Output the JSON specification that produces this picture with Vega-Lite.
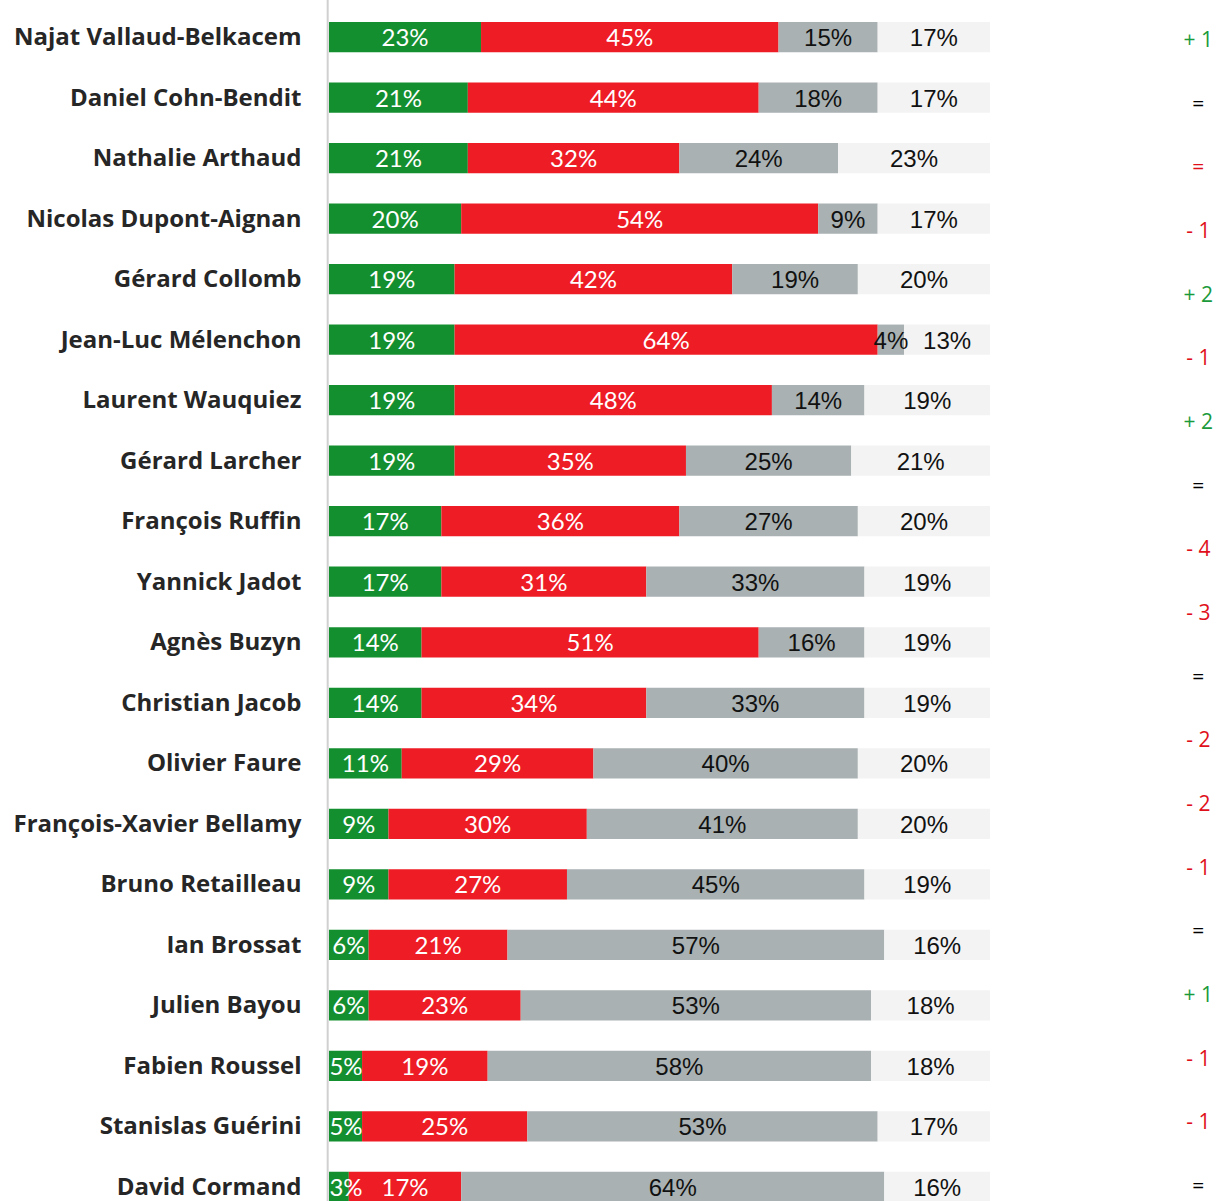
{
  "$schema": "https://vega.github.io/schema/vega-lite/v6.json",
  "width": 903,
  "height": 1201,
  "autosize": "none",
  "padding": {"left": 329, "top": 0, "right": 0, "bottom": 0},
  "background": "white",
  "config": {"view": {"stroke": null}},
  "datasets": {
    "barres": [
      {"nom": "Najat Vallaud-Belkacem", "Bonne opinion": 23, "Mauvaise opinion": 45, "Ne connaissent pas": 15, "Ne se prononcent pas": 17},
      {"nom": "Daniel Cohn-Bendit", "Bonne opinion": 21, "Mauvaise opinion": 44, "Ne connaissent pas": 18, "Ne se prononcent pas": 17},
      {"nom": "Nathalie Arthaud", "Bonne opinion": 21, "Mauvaise opinion": 32, "Ne connaissent pas": 24, "Ne se prononcent pas": 23},
      {"nom": "Nicolas Dupont-Aignan", "Bonne opinion": 20, "Mauvaise opinion": 54, "Ne connaissent pas": 9, "Ne se prononcent pas": 17},
      {"nom": "Gérard Collomb", "Bonne opinion": 19, "Mauvaise opinion": 42, "Ne connaissent pas": 19, "Ne se prononcent pas": 20},
      {"nom": "Jean-Luc Mélenchon", "Bonne opinion": 19, "Mauvaise opinion": 64, "Ne connaissent pas": 4, "Ne se prononcent pas": 13},
      {"nom": "Laurent Wauquiez", "Bonne opinion": 19, "Mauvaise opinion": 48, "Ne connaissent pas": 14, "Ne se prononcent pas": 19},
      {"nom": "Gérard Larcher", "Bonne opinion": 19, "Mauvaise opinion": 35, "Ne connaissent pas": 25, "Ne se prononcent pas": 21},
      {"nom": "François Ruffin", "Bonne opinion": 17, "Mauvaise opinion": 36, "Ne connaissent pas": 27, "Ne se prononcent pas": 20},
      {"nom": "Yannick Jadot", "Bonne opinion": 17, "Mauvaise opinion": 31, "Ne connaissent pas": 33, "Ne se prononcent pas": 19},
      {"nom": "Agnès Buzyn", "Bonne opinion": 14, "Mauvaise opinion": 51, "Ne connaissent pas": 16, "Ne se prononcent pas": 19},
      {"nom": "Christian Jacob", "Bonne opinion": 14, "Mauvaise opinion": 34, "Ne connaissent pas": 33, "Ne se prononcent pas": 19},
      {"nom": "Olivier Faure", "Bonne opinion": 11, "Mauvaise opinion": 29, "Ne connaissent pas": 40, "Ne se prononcent pas": 20},
      {"nom": "François-Xavier Bellamy", "Bonne opinion": 9, "Mauvaise opinion": 30, "Ne connaissent pas": 41, "Ne se prononcent pas": 20},
      {"nom": "Bruno Retailleau", "Bonne opinion": 9, "Mauvaise opinion": 27, "Ne connaissent pas": 45, "Ne se prononcent pas": 19},
      {"nom": "Ian Brossat", "Bonne opinion": 6, "Mauvaise opinion": 21, "Ne connaissent pas": 57, "Ne se prononcent pas": 16},
      {"nom": "Julien Bayou", "Bonne opinion": 6, "Mauvaise opinion": 23, "Ne connaissent pas": 53, "Ne se prononcent pas": 18},
      {"nom": "Fabien Roussel", "Bonne opinion": 5, "Mauvaise opinion": 19, "Ne connaissent pas": 58, "Ne se prononcent pas": 18},
      {"nom": "Stanislas Guérini", "Bonne opinion": 5, "Mauvaise opinion": 25, "Ne connaissent pas": 53, "Ne se prononcent pas": 17},
      {"nom": "David Cormand", "Bonne opinion": 3, "Mauvaise opinion": 17, "Ne connaissent pas": 64, "Ne se prononcent pas": 16}
    ],
    "evolutions": [
      {"ligne": 1, "variation": "+ 1", "sens": "hausse"},
      {"ligne": 2, "variation": "=", "sens": "stable"},
      {"ligne": 3, "variation": "=", "sens": "baisse"},
      {"ligne": 4, "variation": "- 1", "sens": "baisse"},
      {"ligne": 5, "variation": "+ 2", "sens": "hausse"},
      {"ligne": 6, "variation": "- 1", "sens": "baisse"},
      {"ligne": 7, "variation": "+ 2", "sens": "hausse"},
      {"ligne": 8, "variation": "=", "sens": "stable"},
      {"ligne": 9, "variation": "- 4", "sens": "baisse"},
      {"ligne": 10, "variation": "- 3", "sens": "baisse"},
      {"ligne": 11, "variation": "=", "sens": "stable"},
      {"ligne": 12, "variation": "- 2", "sens": "baisse"},
      {"ligne": 13, "variation": "- 2", "sens": "baisse"},
      {"ligne": 14, "variation": "- 1", "sens": "baisse"},
      {"ligne": 15, "variation": "=", "sens": "stable"},
      {"ligne": 16, "variation": "+ 1", "sens": "hausse"},
      {"ligne": 17, "variation": "- 1", "sens": "baisse"},
      {"ligne": 18, "variation": "- 1", "sens": "baisse"},
      {"ligne": 19, "variation": "=", "sens": "stable"}
    ]
  },
  "layer": [
    {
      "data": {"name": "barres"},
      "transform": [
        {"fold": ["Bonne opinion", "Mauvaise opinion", "Ne connaissent pas", "Ne se prononcent pas"], "as": ["cat", "v"]},
        {"stack": "v", "groupby": ["nom"], "sort": [{"field": "cat", "order": "ascending"}], "as": ["x0", "x1"]}
      ],
      "encoding": {
        "y": {
          "field": "nom",
          "type": "nominal",
          "sort": null,
          "scale": {"type": "band", "range": [22, 1202], "paddingInner": 0.5, "paddingOuter": 0},
          "axis": {
            "title": null,
            "domain": false,
            "ticks": false,
            "labelFont": "Open Sans",
            "labelFontWeight": "bold",
            "labelFontSize": 24,
            "labelColor": "#262626",
            "labelPadding": 28,
            "labelLimit": 0,
            "labelOffset": 1
          }
        }
      },
      "layer": [
        {
          "mark": {"type": "bar"},
          "encoding": {
            "x": {"field": "x0", "type": "quantitative", "scale": {"domain": [0, 136.6], "nice": false, "zero": true}, "axis": null},
            "x2": {"field": "x1"},
            "color": {
              "field": "cat",
              "type": "nominal",
              "scale": {
                "domain": ["Bonne opinion", "Mauvaise opinion", "Ne connaissent pas", "Ne se prononcent pas"],
                "range": ["#148f30", "#ee1c25", "#a9b1b2", "#f3f3f3"]
              },
              "legend": null
            }
          }
        },
        {
          "transform": [{"filter": "datum.cat === 'Bonne opinion' || datum.cat === 'Mauvaise opinion'"}],
          "mark": {
            "type": "text",
            "font": "Lato",
            "fontSize": 24,
            "color": "white",
            "align": "center",
            "baseline": "middle",
            "dy": 2,
            "x": {"expr": "max(scale('x', (datum.x0 + datum.x1) / 2), 17)"},
            "text": {"expr": "datum.v + '%'"}
          }
        },
        {
          "transform": [{"filter": "datum.cat === 'Ne connaissent pas' || datum.cat === 'Ne se prononcent pas'"}],
          "mark": {
            "type": "text",
            "font": "Liberation Sans",
            "fontSize": 24,
            "color": "#111111",
            "align": "center",
            "baseline": "middle",
            "dy": 2,
            "x": {"expr": "scale('x', (datum.x0 + datum.x1) / 2)"},
            "text": {"expr": "datum.v + '%'"}
          }
        }
      ]
    },
    {
      "data": {"values": [{}]},
      "mark": {"type": "rule", "color": "#d0d0d0", "strokeWidth": 2},
      "encoding": {"x": {"datum": -0.2}}
    },
    {
      "data": {"name": "evolutions"},
      "mark": {"type": "text", "font": "Open Sans", "fontSize": 21, "align": "center", "baseline": "middle"},
      "encoding": {
        "y": {
          "field": "ligne",
          "type": "ordinal",
          "sort": null,
          "scale": {"type": "point", "range": [41, 1187], "padding": 0},
          "axis": null
        },
        "x": {"datum": 131.5},
        "text": {"field": "variation"},
        "color": {
          "field": "sens",
          "type": "nominal",
          "scale": {"domain": ["hausse", "stable", "baisse"], "range": ["#1a9a3a", "#000000", "#e0101a"]},
          "legend": null
        }
      }
    }
  ],
  "resolve": {"scale": {"y": "independent", "color": "independent"}}
}
